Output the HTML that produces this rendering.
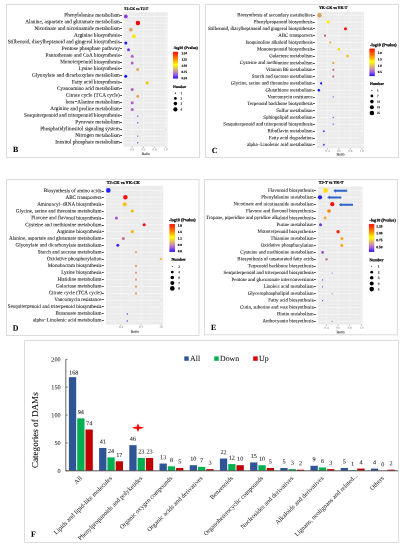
<!DOCTYPE html><html><head><meta charset="utf-8"><style>html,body{margin:0;padding:0;background:#fff;width:405px;height:550px;overflow:hidden}svg{display:block;will-change:transform}text{font-family:"Liberation Serif",serif;text-rendering:geometricPrecision}</style></head><body>
<svg width="405" height="550" viewBox="0 0 405 550">
<rect width="405" height="550" fill="#fff"/>
<rect x="6.5" y="4.5" width="193" height="153" fill="none" stroke="#dcdcdc" stroke-width="1"/>
<rect x="205.5" y="4.5" width="193" height="153" fill="none" stroke="#dcdcdc" stroke-width="1"/>
<rect x="6.5" y="179.5" width="192.5" height="156" fill="none" stroke="#dcdcdc" stroke-width="1"/>
<rect x="204.5" y="179.5" width="193" height="155.3" fill="none" stroke="#dcdcdc" stroke-width="1"/>
<rect x="123.5" y="12.2" width="44.0" height="134.5" fill="#ebebeb"/>
<line x1="126.60" y1="12.2" x2="126.60" y2="146.7" stroke="#fff" stroke-width="0.25" stroke-opacity="0.6"/>
<line x1="137.80" y1="12.2" x2="137.80" y2="146.7" stroke="#fff" stroke-width="0.25" stroke-opacity="0.6"/>
<line x1="149.00" y1="12.2" x2="149.00" y2="146.7" stroke="#fff" stroke-width="0.25" stroke-opacity="0.6"/>
<line x1="160.20" y1="12.2" x2="160.20" y2="146.7" stroke="#fff" stroke-width="0.25" stroke-opacity="0.6"/>
<line x1="132.20" y1="12.2" x2="132.20" y2="146.7" stroke="#fff" stroke-width="0.35"/>
<line x1="143.40" y1="12.2" x2="143.40" y2="146.7" stroke="#fff" stroke-width="0.35"/>
<line x1="154.60" y1="12.2" x2="154.60" y2="146.7" stroke="#fff" stroke-width="0.35"/>
<line x1="165.90" y1="12.2" x2="165.90" y2="146.7" stroke="#fff" stroke-width="0.35"/>
<line x1="123.5" y1="16.40" x2="167.5" y2="16.40" stroke="#fff" stroke-width="0.5"/>
<line x1="123.5" y1="19.72" x2="167.5" y2="19.72" stroke="#fff" stroke-width="0.25" stroke-opacity="0.8"/>
<line x1="123.5" y1="23.05" x2="167.5" y2="23.05" stroke="#fff" stroke-width="0.5"/>
<line x1="123.5" y1="26.37" x2="167.5" y2="26.37" stroke="#fff" stroke-width="0.25" stroke-opacity="0.8"/>
<line x1="123.5" y1="29.70" x2="167.5" y2="29.70" stroke="#fff" stroke-width="0.5"/>
<line x1="123.5" y1="33.02" x2="167.5" y2="33.02" stroke="#fff" stroke-width="0.25" stroke-opacity="0.8"/>
<line x1="123.5" y1="36.35" x2="167.5" y2="36.35" stroke="#fff" stroke-width="0.5"/>
<line x1="123.5" y1="39.68" x2="167.5" y2="39.68" stroke="#fff" stroke-width="0.25" stroke-opacity="0.8"/>
<line x1="123.5" y1="43.00" x2="167.5" y2="43.00" stroke="#fff" stroke-width="0.5"/>
<line x1="123.5" y1="46.33" x2="167.5" y2="46.33" stroke="#fff" stroke-width="0.25" stroke-opacity="0.8"/>
<line x1="123.5" y1="49.65" x2="167.5" y2="49.65" stroke="#fff" stroke-width="0.5"/>
<line x1="123.5" y1="52.98" x2="167.5" y2="52.98" stroke="#fff" stroke-width="0.25" stroke-opacity="0.8"/>
<line x1="123.5" y1="56.30" x2="167.5" y2="56.30" stroke="#fff" stroke-width="0.5"/>
<line x1="123.5" y1="59.63" x2="167.5" y2="59.63" stroke="#fff" stroke-width="0.25" stroke-opacity="0.8"/>
<line x1="123.5" y1="62.95" x2="167.5" y2="62.95" stroke="#fff" stroke-width="0.5"/>
<line x1="123.5" y1="66.28" x2="167.5" y2="66.28" stroke="#fff" stroke-width="0.25" stroke-opacity="0.8"/>
<line x1="123.5" y1="69.60" x2="167.5" y2="69.60" stroke="#fff" stroke-width="0.5"/>
<line x1="123.5" y1="72.92" x2="167.5" y2="72.92" stroke="#fff" stroke-width="0.25" stroke-opacity="0.8"/>
<line x1="123.5" y1="76.25" x2="167.5" y2="76.25" stroke="#fff" stroke-width="0.5"/>
<line x1="123.5" y1="79.58" x2="167.5" y2="79.58" stroke="#fff" stroke-width="0.25" stroke-opacity="0.8"/>
<line x1="123.5" y1="82.90" x2="167.5" y2="82.90" stroke="#fff" stroke-width="0.5"/>
<line x1="123.5" y1="86.23" x2="167.5" y2="86.23" stroke="#fff" stroke-width="0.25" stroke-opacity="0.8"/>
<line x1="123.5" y1="89.55" x2="167.5" y2="89.55" stroke="#fff" stroke-width="0.5"/>
<line x1="123.5" y1="92.88" x2="167.5" y2="92.88" stroke="#fff" stroke-width="0.25" stroke-opacity="0.8"/>
<line x1="123.5" y1="96.20" x2="167.5" y2="96.20" stroke="#fff" stroke-width="0.5"/>
<line x1="123.5" y1="99.53" x2="167.5" y2="99.53" stroke="#fff" stroke-width="0.25" stroke-opacity="0.8"/>
<line x1="123.5" y1="102.85" x2="167.5" y2="102.85" stroke="#fff" stroke-width="0.5"/>
<line x1="123.5" y1="106.17" x2="167.5" y2="106.17" stroke="#fff" stroke-width="0.25" stroke-opacity="0.8"/>
<line x1="123.5" y1="109.50" x2="167.5" y2="109.50" stroke="#fff" stroke-width="0.5"/>
<line x1="123.5" y1="112.83" x2="167.5" y2="112.83" stroke="#fff" stroke-width="0.25" stroke-opacity="0.8"/>
<line x1="123.5" y1="116.15" x2="167.5" y2="116.15" stroke="#fff" stroke-width="0.5"/>
<line x1="123.5" y1="119.48" x2="167.5" y2="119.48" stroke="#fff" stroke-width="0.25" stroke-opacity="0.8"/>
<line x1="123.5" y1="122.80" x2="167.5" y2="122.80" stroke="#fff" stroke-width="0.5"/>
<line x1="123.5" y1="126.13" x2="167.5" y2="126.13" stroke="#fff" stroke-width="0.25" stroke-opacity="0.8"/>
<line x1="123.5" y1="129.45" x2="167.5" y2="129.45" stroke="#fff" stroke-width="0.5"/>
<line x1="123.5" y1="132.78" x2="167.5" y2="132.78" stroke="#fff" stroke-width="0.25" stroke-opacity="0.8"/>
<line x1="123.5" y1="136.10" x2="167.5" y2="136.10" stroke="#fff" stroke-width="0.5"/>
<line x1="123.5" y1="139.42" x2="167.5" y2="139.42" stroke="#fff" stroke-width="0.25" stroke-opacity="0.8"/>
<line x1="123.5" y1="142.75" x2="167.5" y2="142.75" stroke="#fff" stroke-width="0.5"/>
<text x="119.8" y="16.66" font-size="5.25" text-anchor="end" font-weight="normal" fill="#111" stroke="#111" stroke-width="0.06" transform="rotate(0.05 119.8 16.66)" >Phenylalanine metabolism</text>
<line x1="120.1" y1="15.50" x2="122.0" y2="15.50" stroke="#222" stroke-width="0.8"/>
<text x="119.8" y="23.34" font-size="5.25" text-anchor="end" font-weight="normal" fill="#111" stroke="#111" stroke-width="0.06" transform="rotate(0.05 119.8 23.34)" >Alanine, aspartate and glutamate metabolism</text>
<line x1="120.1" y1="22.50" x2="122.0" y2="22.50" stroke="#222" stroke-width="0.8"/>
<text x="119.8" y="30.02" font-size="5.25" text-anchor="end" font-weight="normal" fill="#111" stroke="#111" stroke-width="0.06" transform="rotate(0.05 119.8 30.02)" >Nicotinate and nicotinamide metabolism</text>
<line x1="120.1" y1="28.50" x2="122.0" y2="28.50" stroke="#222" stroke-width="0.8"/>
<text x="119.8" y="36.70" font-size="5.25" text-anchor="end" font-weight="normal" fill="#111" stroke="#111" stroke-width="0.06" transform="rotate(0.05 119.8 36.70)" >Arginine biosynthesis</text>
<line x1="120.1" y1="35.50" x2="122.0" y2="35.50" stroke="#222" stroke-width="0.8"/>
<text x="119.8" y="43.38" font-size="5.25" text-anchor="end" font-weight="normal" fill="#111" stroke="#111" stroke-width="0.06" transform="rotate(0.05 119.8 43.38)" >Stilbenoid, diarylheptanoid and gingerol biosynthesis</text>
<line x1="120.1" y1="42.50" x2="122.0" y2="42.50" stroke="#222" stroke-width="0.8"/>
<text x="119.8" y="50.06" font-size="5.25" text-anchor="end" font-weight="normal" fill="#111" stroke="#111" stroke-width="0.06" transform="rotate(0.05 119.8 50.06)" >Pentose phosphate pathway</text>
<line x1="120.1" y1="48.50" x2="122.0" y2="48.50" stroke="#222" stroke-width="0.8"/>
<text x="119.8" y="56.74" font-size="5.25" text-anchor="end" font-weight="normal" fill="#111" stroke="#111" stroke-width="0.06" transform="rotate(0.05 119.8 56.74)" >Pantothenate and CoA biosynthesis</text>
<line x1="120.1" y1="55.50" x2="122.0" y2="55.50" stroke="#222" stroke-width="0.8"/>
<text x="119.8" y="63.42" font-size="5.25" text-anchor="end" font-weight="normal" fill="#111" stroke="#111" stroke-width="0.06" transform="rotate(0.05 119.8 63.42)" >Monoterpenoid biosynthesis</text>
<line x1="120.1" y1="62.50" x2="122.0" y2="62.50" stroke="#222" stroke-width="0.8"/>
<text x="119.8" y="70.10" font-size="5.25" text-anchor="end" font-weight="normal" fill="#111" stroke="#111" stroke-width="0.06" transform="rotate(0.05 119.8 70.10)" >Lysine biosynthesis</text>
<line x1="120.1" y1="68.50" x2="122.0" y2="68.50" stroke="#222" stroke-width="0.8"/>
<text x="119.8" y="76.78" font-size="5.25" text-anchor="end" font-weight="normal" fill="#111" stroke="#111" stroke-width="0.06" transform="rotate(0.05 119.8 76.78)" >Glyoxylate and dicarboxylate metabolism</text>
<line x1="120.1" y1="75.50" x2="122.0" y2="75.50" stroke="#222" stroke-width="0.8"/>
<text x="119.8" y="83.46" font-size="5.25" text-anchor="end" font-weight="normal" fill="#111" stroke="#111" stroke-width="0.06" transform="rotate(0.05 119.8 83.46)" >Fatty acid biosynthesis</text>
<line x1="120.1" y1="82.50" x2="122.0" y2="82.50" stroke="#222" stroke-width="0.8"/>
<text x="119.8" y="90.14" font-size="5.25" text-anchor="end" font-weight="normal" fill="#111" stroke="#111" stroke-width="0.06" transform="rotate(0.05 119.8 90.14)" >Cyanoamino acid metabolism</text>
<line x1="120.1" y1="88.50" x2="122.0" y2="88.50" stroke="#222" stroke-width="0.8"/>
<text x="119.8" y="96.82" font-size="5.25" text-anchor="end" font-weight="normal" fill="#111" stroke="#111" stroke-width="0.06" transform="rotate(0.05 119.8 96.82)" >Citrate cycle (TCA cycle)</text>
<line x1="120.1" y1="95.50" x2="122.0" y2="95.50" stroke="#222" stroke-width="0.8"/>
<text x="119.8" y="103.50" font-size="5.25" text-anchor="end" font-weight="normal" fill="#111" stroke="#111" stroke-width="0.06" transform="rotate(0.05 119.8 103.50)" >beta−Alanine metabolism</text>
<line x1="120.1" y1="102.50" x2="122.0" y2="102.50" stroke="#222" stroke-width="0.8"/>
<text x="119.8" y="110.18" font-size="5.25" text-anchor="end" font-weight="normal" fill="#111" stroke="#111" stroke-width="0.06" transform="rotate(0.05 119.8 110.18)" >Arginine and proline metabolism</text>
<line x1="120.1" y1="108.50" x2="122.0" y2="108.50" stroke="#222" stroke-width="0.8"/>
<text x="119.8" y="116.86" font-size="5.25" text-anchor="end" font-weight="normal" fill="#111" stroke="#111" stroke-width="0.06" transform="rotate(0.05 119.8 116.86)" >Sesquiterpenoid and triterpenoid biosynthesis</text>
<line x1="120.1" y1="115.50" x2="122.0" y2="115.50" stroke="#222" stroke-width="0.8"/>
<text x="119.8" y="123.54" font-size="5.25" text-anchor="end" font-weight="normal" fill="#111" stroke="#111" stroke-width="0.06" transform="rotate(0.05 119.8 123.54)" >Pyruvate metabolism</text>
<line x1="120.1" y1="122.50" x2="122.0" y2="122.50" stroke="#222" stroke-width="0.8"/>
<text x="119.8" y="130.22" font-size="5.25" text-anchor="end" font-weight="normal" fill="#111" stroke="#111" stroke-width="0.06" transform="rotate(0.05 119.8 130.22)" >Phosphatidylinositol signaling system</text>
<line x1="120.1" y1="129.50" x2="122.0" y2="129.50" stroke="#222" stroke-width="0.8"/>
<text x="119.8" y="136.90" font-size="5.25" text-anchor="end" font-weight="normal" fill="#111" stroke="#111" stroke-width="0.06" transform="rotate(0.05 119.8 136.90)" >Nitrogen metabolism</text>
<line x1="120.1" y1="135.50" x2="122.0" y2="135.50" stroke="#222" stroke-width="0.8"/>
<text x="119.8" y="143.58" font-size="5.25" text-anchor="end" font-weight="normal" fill="#111" stroke="#111" stroke-width="0.06" transform="rotate(0.05 119.8 143.58)" >Inositol phosphate metabolism</text>
<line x1="120.1" y1="142.50" x2="122.0" y2="142.50" stroke="#222" stroke-width="0.8"/>
<circle cx="125.8" cy="16.40" r="1.9" fill="#8a3ee6"/>
<circle cx="137.9" cy="23.05" r="2.2" fill="#ff0000"/>
<circle cx="130.9" cy="29.70" r="1.9" fill="#d8a868"/>
<circle cx="133.9" cy="36.35" r="1.9" fill="#ffe600"/>
<circle cx="125.8" cy="43.00" r="1.5" fill="#1a1aff"/>
<circle cx="128.5" cy="49.65" r="1.5" fill="#7a30f0"/>
<circle cx="132.2" cy="56.30" r="1.5" fill="#b060c0"/>
<circle cx="132.2" cy="62.95" r="1.5" fill="#b060c0"/>
<circle cx="137.7" cy="69.60" r="1.5" fill="#e0b050"/>
<circle cx="125.7" cy="76.25" r="1.5" fill="#1010ff"/>
<circle cx="147.2" cy="82.90" r="1.6" fill="#f5c518"/>
<circle cx="132.2" cy="89.55" r="1.5" fill="#b060c0"/>
<circle cx="137.7" cy="96.20" r="1.5" fill="#e0b050"/>
<circle cx="132.2" cy="102.85" r="1.5" fill="#b060c0"/>
<circle cx="132.2" cy="109.50" r="1.5" fill="#b060c0"/>
<circle cx="137.7" cy="116.15" r="0.7" fill="#6040ff"/>
<circle cx="137.7" cy="122.80" r="0.7" fill="#6040ff"/>
<circle cx="165.9" cy="129.45" r="0.5" fill="#d8b8c8"/>
<circle cx="137.7" cy="136.10" r="0.7" fill="#6040ff"/>
<circle cx="137.7" cy="142.75" r="0.7" fill="#6040ff"/>
<line x1="132.2" y1="146.7" x2="132.2" y2="147.89999999999998" stroke="#333" stroke-width="0.4"/>
<text x="132.2" y="150.40" font-size="3.2" text-anchor="middle" font-weight="normal" fill="#666" transform="rotate(0.05 132.2 150.40)" >0.4</text>
<line x1="143.4" y1="146.7" x2="143.4" y2="147.89999999999998" stroke="#333" stroke-width="0.4"/>
<text x="143.4" y="150.40" font-size="3.2" text-anchor="middle" font-weight="normal" fill="#666" transform="rotate(0.05 143.4 150.40)" >0.6</text>
<line x1="154.6" y1="146.7" x2="154.6" y2="147.89999999999998" stroke="#333" stroke-width="0.4"/>
<text x="154.6" y="150.40" font-size="3.2" text-anchor="middle" font-weight="normal" fill="#666" transform="rotate(0.05 154.6 150.40)" >0.8</text>
<line x1="165.9" y1="146.7" x2="165.9" y2="147.89999999999998" stroke="#333" stroke-width="0.4"/>
<text x="165.9" y="150.40" font-size="3.2" text-anchor="middle" font-weight="normal" fill="#666" transform="rotate(0.05 165.9 150.40)" >1.0</text>
<text x="145.8" y="155.00" font-size="3.8" text-anchor="middle" font-weight="normal" fill="#222" stroke="#222" stroke-width="0.06" transform="rotate(0.05 145.8 155.00)" >Ratio</text>
<text x="124" y="10.03" font-size="3.72" text-anchor="start" font-weight="bold" fill="#000" stroke="#000" stroke-width="0.2" transform="rotate(0.05 124 10.03)" >TJ-CK vs TJ-T</text>
<text x="173.2" y="49.07" font-size="3.84" text-anchor="start" font-weight="bold" fill="#000" stroke="#000" stroke-width="0.2" transform="rotate(0.05 173.2 49.07)" >-log10 (Pvalue)</text>
<defs><linearGradient id="g1" x1="0" y1="0" x2="0" y2="1"><stop offset="0" stop-color="#ff0a00"/><stop offset="0.25" stop-color="#ff8000"/><stop offset="0.48" stop-color="#ffff00"/><stop offset="0.70" stop-color="#d8a090"/><stop offset="0.85" stop-color="#a060e0"/><stop offset="1" stop-color="#2a10ff"/></linearGradient></defs>
<rect x="173" y="51.8" width="5" height="26.799999999999997" fill="url(#g1)"/>
<text x="181.4" y="54.19" font-size="3.2" text-anchor="start" font-weight="bold" fill="#000" stroke="#000" stroke-width="0.15" transform="rotate(0.05 181.4 54.19)" >1.50</text>
<text x="181.4" y="60.49" font-size="3.2" text-anchor="start" font-weight="bold" fill="#000" stroke="#000" stroke-width="0.15" transform="rotate(0.05 181.4 60.49)" >1.25</text>
<text x="181.4" y="66.79" font-size="3.2" text-anchor="start" font-weight="bold" fill="#000" stroke="#000" stroke-width="0.15" transform="rotate(0.05 181.4 66.79)" >1.00</text>
<text x="181.4" y="73.09" font-size="3.2" text-anchor="start" font-weight="bold" fill="#000" stroke="#000" stroke-width="0.15" transform="rotate(0.05 181.4 73.09)" >0.75</text>
<text x="181.4" y="79.29" font-size="3.2" text-anchor="start" font-weight="bold" fill="#000" stroke="#000" stroke-width="0.15" transform="rotate(0.05 181.4 79.29)" >0.50</text>
<text x="173" y="88.02" font-size="3.71" text-anchor="start" font-weight="bold" fill="#000" stroke="#000" stroke-width="0.2" transform="rotate(0.05 173 88.02)" >Number</text>
<circle cx="175.4" cy="93.2" r="0.6" fill="#000"/>
<text x="180.5" y="94.29" font-size="3.2" text-anchor="start" font-weight="bold" fill="#222" stroke="#222" stroke-width="0.08" transform="rotate(0.05 180.5 94.29)" >1</text>
<circle cx="175.4" cy="98.4" r="1.4" fill="#000"/>
<text x="180.5" y="99.49" font-size="3.2" text-anchor="start" font-weight="bold" fill="#222" stroke="#222" stroke-width="0.08" transform="rotate(0.05 180.5 99.49)" >2</text>
<circle cx="175.4" cy="103.6" r="1.8" fill="#000"/>
<text x="180.5" y="104.69" font-size="3.2" text-anchor="start" font-weight="bold" fill="#222" stroke="#222" stroke-width="0.08" transform="rotate(0.05 180.5 104.69)" >3</text>
<circle cx="175.4" cy="109.4" r="2.1" fill="#000"/>
<text x="180.5" y="110.49" font-size="3.2" text-anchor="start" font-weight="bold" fill="#222" stroke="#222" stroke-width="0.08" transform="rotate(0.05 180.5 110.49)" >4</text>
<text x="13" y="152" font-size="7.9" text-anchor="start" font-weight="bold" fill="#000" stroke="#000" stroke-width="0.06" transform="rotate(0.05 13 152)" >B</text>
<rect x="317.2" y="11.75" width="46.80000000000001" height="136.55" fill="#ebebeb"/>
<line x1="321.80" y1="11.75" x2="321.80" y2="148.3" stroke="#fff" stroke-width="0.25" stroke-opacity="0.6"/>
<line x1="333.20" y1="11.75" x2="333.20" y2="148.3" stroke="#fff" stroke-width="0.25" stroke-opacity="0.6"/>
<line x1="344.60" y1="11.75" x2="344.60" y2="148.3" stroke="#fff" stroke-width="0.25" stroke-opacity="0.6"/>
<line x1="356.00" y1="11.75" x2="356.00" y2="148.3" stroke="#fff" stroke-width="0.25" stroke-opacity="0.6"/>
<line x1="327.50" y1="11.75" x2="327.50" y2="148.3" stroke="#fff" stroke-width="0.35"/>
<line x1="338.90" y1="11.75" x2="338.90" y2="148.3" stroke="#fff" stroke-width="0.35"/>
<line x1="350.30" y1="11.75" x2="350.30" y2="148.3" stroke="#fff" stroke-width="0.35"/>
<line x1="361.90" y1="11.75" x2="361.90" y2="148.3" stroke="#fff" stroke-width="0.35"/>
<line x1="317.2" y1="15.20" x2="364" y2="15.20" stroke="#fff" stroke-width="0.5"/>
<line x1="317.2" y1="18.61" x2="364" y2="18.61" stroke="#fff" stroke-width="0.25" stroke-opacity="0.8"/>
<line x1="317.2" y1="22.02" x2="364" y2="22.02" stroke="#fff" stroke-width="0.5"/>
<line x1="317.2" y1="25.43" x2="364" y2="25.43" stroke="#fff" stroke-width="0.25" stroke-opacity="0.8"/>
<line x1="317.2" y1="28.84" x2="364" y2="28.84" stroke="#fff" stroke-width="0.5"/>
<line x1="317.2" y1="32.25" x2="364" y2="32.25" stroke="#fff" stroke-width="0.25" stroke-opacity="0.8"/>
<line x1="317.2" y1="35.66" x2="364" y2="35.66" stroke="#fff" stroke-width="0.5"/>
<line x1="317.2" y1="39.07" x2="364" y2="39.07" stroke="#fff" stroke-width="0.25" stroke-opacity="0.8"/>
<line x1="317.2" y1="42.48" x2="364" y2="42.48" stroke="#fff" stroke-width="0.5"/>
<line x1="317.2" y1="45.89" x2="364" y2="45.89" stroke="#fff" stroke-width="0.25" stroke-opacity="0.8"/>
<line x1="317.2" y1="49.30" x2="364" y2="49.30" stroke="#fff" stroke-width="0.5"/>
<line x1="317.2" y1="52.71" x2="364" y2="52.71" stroke="#fff" stroke-width="0.25" stroke-opacity="0.8"/>
<line x1="317.2" y1="56.12" x2="364" y2="56.12" stroke="#fff" stroke-width="0.5"/>
<line x1="317.2" y1="59.53" x2="364" y2="59.53" stroke="#fff" stroke-width="0.25" stroke-opacity="0.8"/>
<line x1="317.2" y1="62.94" x2="364" y2="62.94" stroke="#fff" stroke-width="0.5"/>
<line x1="317.2" y1="66.35" x2="364" y2="66.35" stroke="#fff" stroke-width="0.25" stroke-opacity="0.8"/>
<line x1="317.2" y1="69.76" x2="364" y2="69.76" stroke="#fff" stroke-width="0.5"/>
<line x1="317.2" y1="73.17" x2="364" y2="73.17" stroke="#fff" stroke-width="0.25" stroke-opacity="0.8"/>
<line x1="317.2" y1="76.58" x2="364" y2="76.58" stroke="#fff" stroke-width="0.5"/>
<line x1="317.2" y1="79.99" x2="364" y2="79.99" stroke="#fff" stroke-width="0.25" stroke-opacity="0.8"/>
<line x1="317.2" y1="83.40" x2="364" y2="83.40" stroke="#fff" stroke-width="0.5"/>
<line x1="317.2" y1="86.81" x2="364" y2="86.81" stroke="#fff" stroke-width="0.25" stroke-opacity="0.8"/>
<line x1="317.2" y1="90.22" x2="364" y2="90.22" stroke="#fff" stroke-width="0.5"/>
<line x1="317.2" y1="93.63" x2="364" y2="93.63" stroke="#fff" stroke-width="0.25" stroke-opacity="0.8"/>
<line x1="317.2" y1="97.04" x2="364" y2="97.04" stroke="#fff" stroke-width="0.5"/>
<line x1="317.2" y1="100.45" x2="364" y2="100.45" stroke="#fff" stroke-width="0.25" stroke-opacity="0.8"/>
<line x1="317.2" y1="103.86" x2="364" y2="103.86" stroke="#fff" stroke-width="0.5"/>
<line x1="317.2" y1="107.27" x2="364" y2="107.27" stroke="#fff" stroke-width="0.25" stroke-opacity="0.8"/>
<line x1="317.2" y1="110.68" x2="364" y2="110.68" stroke="#fff" stroke-width="0.5"/>
<line x1="317.2" y1="114.09" x2="364" y2="114.09" stroke="#fff" stroke-width="0.25" stroke-opacity="0.8"/>
<line x1="317.2" y1="117.50" x2="364" y2="117.50" stroke="#fff" stroke-width="0.5"/>
<line x1="317.2" y1="120.91" x2="364" y2="120.91" stroke="#fff" stroke-width="0.25" stroke-opacity="0.8"/>
<line x1="317.2" y1="124.32" x2="364" y2="124.32" stroke="#fff" stroke-width="0.5"/>
<line x1="317.2" y1="127.73" x2="364" y2="127.73" stroke="#fff" stroke-width="0.25" stroke-opacity="0.8"/>
<line x1="317.2" y1="131.14" x2="364" y2="131.14" stroke="#fff" stroke-width="0.5"/>
<line x1="317.2" y1="134.55" x2="364" y2="134.55" stroke="#fff" stroke-width="0.25" stroke-opacity="0.8"/>
<line x1="317.2" y1="137.96" x2="364" y2="137.96" stroke="#fff" stroke-width="0.5"/>
<line x1="317.2" y1="141.37" x2="364" y2="141.37" stroke="#fff" stroke-width="0.25" stroke-opacity="0.8"/>
<line x1="317.2" y1="144.78" x2="364" y2="144.78" stroke="#fff" stroke-width="0.5"/>
<text x="312.7" y="16.43" font-size="4.93" text-anchor="end" font-weight="normal" fill="#111" stroke="#111" stroke-width="0.06" transform="rotate(0.05 312.7 16.43)" >Biosynthesis of secondary metabolites</text>
<line x1="313.0" y1="15.50" x2="314.9" y2="15.50" stroke="#222" stroke-width="0.8"/>
<text x="312.7" y="23.25" font-size="4.93" text-anchor="end" font-weight="normal" fill="#111" stroke="#111" stroke-width="0.06" transform="rotate(0.05 312.7 23.25)" >Phenylpropanoid biosynthesis</text>
<line x1="313.0" y1="22.50" x2="314.9" y2="22.50" stroke="#222" stroke-width="0.8"/>
<text x="312.7" y="30.07" font-size="4.93" text-anchor="end" font-weight="normal" fill="#111" stroke="#111" stroke-width="0.06" transform="rotate(0.05 312.7 30.07)" >Stilbenoid, diarylheptanoid and gingerol biosynthesis</text>
<line x1="313.0" y1="28.50" x2="314.9" y2="28.50" stroke="#222" stroke-width="0.8"/>
<text x="312.7" y="36.89" font-size="4.93" text-anchor="end" font-weight="normal" fill="#111" stroke="#111" stroke-width="0.06" transform="rotate(0.05 312.7 36.89)" >ABC transporters</text>
<line x1="313.0" y1="35.50" x2="314.9" y2="35.50" stroke="#222" stroke-width="0.8"/>
<text x="312.7" y="43.71" font-size="4.93" text-anchor="end" font-weight="normal" fill="#111" stroke="#111" stroke-width="0.06" transform="rotate(0.05 312.7 43.71)" >Isoquinoline alkaloid biosynthesis</text>
<line x1="313.0" y1="42.50" x2="314.9" y2="42.50" stroke="#222" stroke-width="0.8"/>
<text x="312.7" y="50.53" font-size="4.93" text-anchor="end" font-weight="normal" fill="#111" stroke="#111" stroke-width="0.06" transform="rotate(0.05 312.7 50.53)" >Monoterpenoid biosynthesis</text>
<line x1="313.0" y1="49.50" x2="314.9" y2="49.50" stroke="#222" stroke-width="0.8"/>
<text x="312.7" y="57.35" font-size="4.93" text-anchor="end" font-weight="normal" fill="#111" stroke="#111" stroke-width="0.06" transform="rotate(0.05 312.7 57.35)" >Galactose metabolism</text>
<line x1="313.0" y1="56.50" x2="314.9" y2="56.50" stroke="#222" stroke-width="0.8"/>
<text x="312.7" y="64.17" font-size="4.93" text-anchor="end" font-weight="normal" fill="#111" stroke="#111" stroke-width="0.06" transform="rotate(0.05 312.7 64.17)" >Cysteine and methionine metabolism</text>
<line x1="313.0" y1="63.50" x2="314.9" y2="63.50" stroke="#222" stroke-width="0.8"/>
<text x="312.7" y="70.99" font-size="4.93" text-anchor="end" font-weight="normal" fill="#111" stroke="#111" stroke-width="0.06" transform="rotate(0.05 312.7 70.99)" >Vitamin B6 metabolism</text>
<line x1="313.0" y1="69.50" x2="314.9" y2="69.50" stroke="#222" stroke-width="0.8"/>
<text x="312.7" y="77.81" font-size="4.93" text-anchor="end" font-weight="normal" fill="#111" stroke="#111" stroke-width="0.06" transform="rotate(0.05 312.7 77.81)" >Starch and sucrose metabolism</text>
<line x1="313.0" y1="76.50" x2="314.9" y2="76.50" stroke="#222" stroke-width="0.8"/>
<text x="312.7" y="84.63" font-size="4.93" text-anchor="end" font-weight="normal" fill="#111" stroke="#111" stroke-width="0.06" transform="rotate(0.05 312.7 84.63)" >Glycine, serine and threonine metabolism</text>
<line x1="313.0" y1="83.50" x2="314.9" y2="83.50" stroke="#222" stroke-width="0.8"/>
<text x="312.7" y="91.45" font-size="4.93" text-anchor="end" font-weight="normal" fill="#111" stroke="#111" stroke-width="0.06" transform="rotate(0.05 312.7 91.45)" >Glutathione metabolism</text>
<line x1="313.0" y1="90.50" x2="314.9" y2="90.50" stroke="#222" stroke-width="0.8"/>
<text x="312.7" y="98.27" font-size="4.93" text-anchor="end" font-weight="normal" fill="#111" stroke="#111" stroke-width="0.06" transform="rotate(0.05 312.7 98.27)" >Vancomycin resistance</text>
<line x1="313.0" y1="97.50" x2="314.9" y2="97.50" stroke="#222" stroke-width="0.8"/>
<text x="312.7" y="105.09" font-size="4.93" text-anchor="end" font-weight="normal" fill="#111" stroke="#111" stroke-width="0.06" transform="rotate(0.05 312.7 105.09)" >Terpenoid backbone biosynthesis</text>
<line x1="313.0" y1="103.50" x2="314.9" y2="103.50" stroke="#222" stroke-width="0.8"/>
<text x="312.7" y="111.91" font-size="4.93" text-anchor="end" font-weight="normal" fill="#111" stroke="#111" stroke-width="0.06" transform="rotate(0.05 312.7 111.91)" >Sulfur metabolism</text>
<line x1="313.0" y1="110.50" x2="314.9" y2="110.50" stroke="#222" stroke-width="0.8"/>
<text x="312.7" y="118.73" font-size="4.93" text-anchor="end" font-weight="normal" fill="#111" stroke="#111" stroke-width="0.06" transform="rotate(0.05 312.7 118.73)" >Sphingolipid metabolism</text>
<line x1="313.0" y1="117.50" x2="314.9" y2="117.50" stroke="#222" stroke-width="0.8"/>
<text x="312.7" y="125.55" font-size="4.93" text-anchor="end" font-weight="normal" fill="#111" stroke="#111" stroke-width="0.06" transform="rotate(0.05 312.7 125.55)" >Sesquiterpenoid and triterpenoid biosynthesis</text>
<line x1="313.0" y1="124.50" x2="314.9" y2="124.50" stroke="#222" stroke-width="0.8"/>
<text x="312.7" y="132.37" font-size="4.93" text-anchor="end" font-weight="normal" fill="#111" stroke="#111" stroke-width="0.06" transform="rotate(0.05 312.7 132.37)" >Riboflavin metabolism</text>
<line x1="313.0" y1="131.50" x2="314.9" y2="131.50" stroke="#222" stroke-width="0.8"/>
<text x="312.7" y="139.19" font-size="4.93" text-anchor="end" font-weight="normal" fill="#111" stroke="#111" stroke-width="0.06" transform="rotate(0.05 312.7 139.19)" >Fatty acid degradation</text>
<line x1="313.0" y1="138.50" x2="314.9" y2="138.50" stroke="#222" stroke-width="0.8"/>
<text x="312.7" y="146.01" font-size="4.93" text-anchor="end" font-weight="normal" fill="#111" stroke="#111" stroke-width="0.06" transform="rotate(0.05 312.7 146.01)" >alpha−Linolenic acid metabolism</text>
<line x1="313.0" y1="144.50" x2="314.9" y2="144.50" stroke="#222" stroke-width="0.8"/>
<circle cx="319.5" cy="15.20" r="2.2" fill="#d9a060"/>
<circle cx="328.2" cy="22.02" r="1.6" fill="#ffee00"/>
<circle cx="345.5" cy="28.84" r="1.5" fill="#ff0000"/>
<circle cx="325" cy="35.66" r="1.1" fill="#c06080"/>
<circle cx="330.2" cy="42.48" r="1.1" fill="#f0b030"/>
<circle cx="338.9" cy="49.30" r="1.2" fill="#f8d800"/>
<circle cx="347.5" cy="56.12" r="1.3" fill="#f5b820"/>
<circle cx="333.3" cy="62.94" r="1.1" fill="#e8a040"/>
<circle cx="333.3" cy="69.76" r="1.0" fill="#c06070"/>
<circle cx="333.3" cy="76.58" r="1.0" fill="#c06070"/>
<circle cx="321.1" cy="83.40" r="1.1" fill="#1515ff"/>
<circle cx="318.9" cy="90.22" r="1.2" fill="#1010ff"/>
<circle cx="333.3" cy="97.04" r="0.8" fill="#a070e0"/>
<circle cx="361.9" cy="103.86" r="0.5" fill="#e0c0c0"/>
<circle cx="361.9" cy="110.68" r="0.5" fill="#e0c0c0"/>
<circle cx="333.3" cy="117.50" r="0.8" fill="#9060f0"/>
<circle cx="333.3" cy="124.32" r="0.8" fill="#9060f0"/>
<circle cx="323.8" cy="131.14" r="1.0" fill="#6040ff"/>
<circle cx="361.9" cy="137.96" r="0.5" fill="#e0c0c0"/>
<circle cx="323.8" cy="144.78" r="1.0" fill="#6040ff"/>
<line x1="327.5" y1="148.3" x2="327.5" y2="149.5" stroke="#333" stroke-width="0.4"/>
<text x="327.5" y="152.10" font-size="3.2" text-anchor="middle" font-weight="normal" fill="#666" transform="rotate(0.05 327.5 152.10)" >0.4</text>
<line x1="338.9" y1="148.3" x2="338.9" y2="149.5" stroke="#333" stroke-width="0.4"/>
<text x="338.9" y="152.10" font-size="3.2" text-anchor="middle" font-weight="normal" fill="#666" transform="rotate(0.05 338.9 152.10)" >0.6</text>
<line x1="350.3" y1="148.3" x2="350.3" y2="149.5" stroke="#333" stroke-width="0.4"/>
<text x="350.3" y="152.10" font-size="3.2" text-anchor="middle" font-weight="normal" fill="#666" transform="rotate(0.05 350.3 152.10)" >0.8</text>
<line x1="361.9" y1="148.3" x2="361.9" y2="149.5" stroke="#333" stroke-width="0.4"/>
<text x="361.9" y="152.10" font-size="3.2" text-anchor="middle" font-weight="normal" fill="#666" transform="rotate(0.05 361.9 152.10)" >1.0</text>
<text x="340.6" y="155.50" font-size="3.8" text-anchor="middle" font-weight="normal" fill="#222" stroke="#222" stroke-width="0.06" transform="rotate(0.05 340.6 155.50)" >Ratio</text>
<text x="319" y="8.91" font-size="3.97" text-anchor="start" font-weight="bold" fill="#000" stroke="#000" stroke-width="0.2" transform="rotate(0.05 319 8.91)" >YK-CK vs YK-T</text>
<text x="370.1" y="46.27" font-size="4.16" text-anchor="start" font-weight="bold" fill="#000" stroke="#000" stroke-width="0.2" transform="rotate(0.05 370.1 46.27)" >-log10 (Pvalue)</text>
<defs><linearGradient id="g2" x1="0" y1="0" x2="0" y2="1"><stop offset="0" stop-color="#ff0a00"/><stop offset="0.25" stop-color="#ff8000"/><stop offset="0.48" stop-color="#ffff00"/><stop offset="0.70" stop-color="#d8a090"/><stop offset="0.85" stop-color="#a060e0"/><stop offset="1" stop-color="#2a10ff"/></linearGradient></defs>
<rect x="369.4" y="48.6" width="5.400000000000034" height="27.499999999999993" fill="url(#g2)"/>
<text x="377.8" y="53.89" font-size="3.2" text-anchor="start" font-weight="bold" fill="#000" stroke="#000" stroke-width="0.15" transform="rotate(0.05 377.8 53.89)" >2.0</text>
<text x="377.8" y="60.29" font-size="3.2" text-anchor="start" font-weight="bold" fill="#000" stroke="#000" stroke-width="0.15" transform="rotate(0.05 377.8 60.29)" >1.5</text>
<text x="377.8" y="66.69" font-size="3.2" text-anchor="start" font-weight="bold" fill="#000" stroke="#000" stroke-width="0.15" transform="rotate(0.05 377.8 66.69)" >1.0</text>
<text x="377.8" y="73.09" font-size="3.2" text-anchor="start" font-weight="bold" fill="#000" stroke="#000" stroke-width="0.15" transform="rotate(0.05 377.8 73.09)" >0.5</text>
<text x="370.1" y="85.08" font-size="3.88" text-anchor="start" font-weight="bold" fill="#000" stroke="#000" stroke-width="0.2" transform="rotate(0.05 370.1 85.08)" >Number</text>
<circle cx="371.9" cy="90.4" r="0.5" fill="#000"/>
<text x="377" y="91.49" font-size="3.2" text-anchor="start" font-weight="bold" fill="#222" stroke="#222" stroke-width="0.08" transform="rotate(0.05 377 91.49)" >1</text>
<circle cx="371.9" cy="95.9" r="1.4" fill="#000"/>
<text x="377" y="96.99" font-size="3.2" text-anchor="start" font-weight="bold" fill="#222" stroke="#222" stroke-width="0.08" transform="rotate(0.05 377 96.99)" >7</text>
<circle cx="371.9" cy="101.6" r="1.8" fill="#000"/>
<text x="377" y="102.69" font-size="3.2" text-anchor="start" font-weight="bold" fill="#222" stroke="#222" stroke-width="0.08" transform="rotate(0.05 377 102.69)" >13</text>
<circle cx="371.9" cy="107.2" r="2.0" fill="#000"/>
<text x="377" y="108.29" font-size="3.2" text-anchor="start" font-weight="bold" fill="#222" stroke="#222" stroke-width="0.08" transform="rotate(0.05 377 108.29)" >19</text>
<circle cx="371.9" cy="113" r="2.3" fill="#000"/>
<text x="377" y="114.09" font-size="3.2" text-anchor="start" font-weight="bold" fill="#222" stroke="#222" stroke-width="0.08" transform="rotate(0.05 377 114.09)" >25</text>
<text x="211.7" y="152.9" font-size="7.9" text-anchor="start" font-weight="bold" fill="#000" stroke="#000" stroke-width="0.06" transform="rotate(0.05 211.7 152.9)" >C</text>
<rect x="106" y="185.8" width="57.30000000000001" height="138.8" fill="#ebebeb"/>
<line x1="110.95" y1="185.8" x2="110.95" y2="324.6" stroke="#fff" stroke-width="0.25" stroke-opacity="0.6"/>
<line x1="131.05" y1="185.8" x2="131.05" y2="324.6" stroke="#fff" stroke-width="0.25" stroke-opacity="0.6"/>
<line x1="151.15" y1="185.8" x2="151.15" y2="324.6" stroke="#fff" stroke-width="0.25" stroke-opacity="0.6"/>
<line x1="121.00" y1="185.8" x2="121.00" y2="324.6" stroke="#fff" stroke-width="0.35"/>
<line x1="141.10" y1="185.8" x2="141.10" y2="324.6" stroke="#fff" stroke-width="0.35"/>
<line x1="161.20" y1="185.8" x2="161.20" y2="324.6" stroke="#fff" stroke-width="0.35"/>
<line x1="106" y1="190.40" x2="163.3" y2="190.40" stroke="#fff" stroke-width="0.5"/>
<line x1="106" y1="193.84" x2="163.3" y2="193.84" stroke="#fff" stroke-width="0.25" stroke-opacity="0.8"/>
<line x1="106" y1="197.27" x2="163.3" y2="197.27" stroke="#fff" stroke-width="0.5"/>
<line x1="106" y1="200.71" x2="163.3" y2="200.71" stroke="#fff" stroke-width="0.25" stroke-opacity="0.8"/>
<line x1="106" y1="204.14" x2="163.3" y2="204.14" stroke="#fff" stroke-width="0.5"/>
<line x1="106" y1="207.58" x2="163.3" y2="207.58" stroke="#fff" stroke-width="0.25" stroke-opacity="0.8"/>
<line x1="106" y1="211.01" x2="163.3" y2="211.01" stroke="#fff" stroke-width="0.5"/>
<line x1="106" y1="214.44" x2="163.3" y2="214.44" stroke="#fff" stroke-width="0.25" stroke-opacity="0.8"/>
<line x1="106" y1="217.88" x2="163.3" y2="217.88" stroke="#fff" stroke-width="0.5"/>
<line x1="106" y1="221.31" x2="163.3" y2="221.31" stroke="#fff" stroke-width="0.25" stroke-opacity="0.8"/>
<line x1="106" y1="224.75" x2="163.3" y2="224.75" stroke="#fff" stroke-width="0.5"/>
<line x1="106" y1="228.19" x2="163.3" y2="228.19" stroke="#fff" stroke-width="0.25" stroke-opacity="0.8"/>
<line x1="106" y1="231.62" x2="163.3" y2="231.62" stroke="#fff" stroke-width="0.5"/>
<line x1="106" y1="235.06" x2="163.3" y2="235.06" stroke="#fff" stroke-width="0.25" stroke-opacity="0.8"/>
<line x1="106" y1="238.49" x2="163.3" y2="238.49" stroke="#fff" stroke-width="0.5"/>
<line x1="106" y1="241.93" x2="163.3" y2="241.93" stroke="#fff" stroke-width="0.25" stroke-opacity="0.8"/>
<line x1="106" y1="245.36" x2="163.3" y2="245.36" stroke="#fff" stroke-width="0.5"/>
<line x1="106" y1="248.80" x2="163.3" y2="248.80" stroke="#fff" stroke-width="0.25" stroke-opacity="0.8"/>
<line x1="106" y1="252.23" x2="163.3" y2="252.23" stroke="#fff" stroke-width="0.5"/>
<line x1="106" y1="255.67" x2="163.3" y2="255.67" stroke="#fff" stroke-width="0.25" stroke-opacity="0.8"/>
<line x1="106" y1="259.10" x2="163.3" y2="259.10" stroke="#fff" stroke-width="0.5"/>
<line x1="106" y1="262.54" x2="163.3" y2="262.54" stroke="#fff" stroke-width="0.25" stroke-opacity="0.8"/>
<line x1="106" y1="265.97" x2="163.3" y2="265.97" stroke="#fff" stroke-width="0.5"/>
<line x1="106" y1="269.41" x2="163.3" y2="269.41" stroke="#fff" stroke-width="0.25" stroke-opacity="0.8"/>
<line x1="106" y1="272.84" x2="163.3" y2="272.84" stroke="#fff" stroke-width="0.5"/>
<line x1="106" y1="276.28" x2="163.3" y2="276.28" stroke="#fff" stroke-width="0.25" stroke-opacity="0.8"/>
<line x1="106" y1="279.71" x2="163.3" y2="279.71" stroke="#fff" stroke-width="0.5"/>
<line x1="106" y1="283.15" x2="163.3" y2="283.15" stroke="#fff" stroke-width="0.25" stroke-opacity="0.8"/>
<line x1="106" y1="286.58" x2="163.3" y2="286.58" stroke="#fff" stroke-width="0.5"/>
<line x1="106" y1="290.02" x2="163.3" y2="290.02" stroke="#fff" stroke-width="0.25" stroke-opacity="0.8"/>
<line x1="106" y1="293.45" x2="163.3" y2="293.45" stroke="#fff" stroke-width="0.5"/>
<line x1="106" y1="296.88" x2="163.3" y2="296.88" stroke="#fff" stroke-width="0.25" stroke-opacity="0.8"/>
<line x1="106" y1="300.32" x2="163.3" y2="300.32" stroke="#fff" stroke-width="0.5"/>
<line x1="106" y1="303.75" x2="163.3" y2="303.75" stroke="#fff" stroke-width="0.25" stroke-opacity="0.8"/>
<line x1="106" y1="307.19" x2="163.3" y2="307.19" stroke="#fff" stroke-width="0.5"/>
<line x1="106" y1="310.62" x2="163.3" y2="310.62" stroke="#fff" stroke-width="0.25" stroke-opacity="0.8"/>
<line x1="106" y1="314.06" x2="163.3" y2="314.06" stroke="#fff" stroke-width="0.5"/>
<line x1="106" y1="317.50" x2="163.3" y2="317.50" stroke="#fff" stroke-width="0.25" stroke-opacity="0.8"/>
<line x1="106" y1="320.93" x2="163.3" y2="320.93" stroke="#fff" stroke-width="0.5"/>
<text x="101.6" y="192.18" font-size="5.15" text-anchor="end" font-weight="normal" fill="#111" stroke="#111" stroke-width="0.06" transform="rotate(0.05 101.6 192.18)" >Biosynthesis of amino acids</text>
<line x1="101.89999999999999" y1="191.50" x2="103.8" y2="191.50" stroke="#222" stroke-width="0.8"/>
<text x="101.6" y="198.99" font-size="5.15" text-anchor="end" font-weight="normal" fill="#111" stroke="#111" stroke-width="0.06" transform="rotate(0.05 101.6 198.99)" >ABC transporters</text>
<line x1="101.89999999999999" y1="197.50" x2="103.8" y2="197.50" stroke="#222" stroke-width="0.8"/>
<text x="101.6" y="205.80" font-size="5.15" text-anchor="end" font-weight="normal" fill="#111" stroke="#111" stroke-width="0.06" transform="rotate(0.05 101.6 205.80)" >Aminoacyl−tRNA biosynthesis</text>
<line x1="101.89999999999999" y1="204.50" x2="103.8" y2="204.50" stroke="#222" stroke-width="0.8"/>
<text x="101.6" y="212.61" font-size="5.15" text-anchor="end" font-weight="normal" fill="#111" stroke="#111" stroke-width="0.06" transform="rotate(0.05 101.6 212.61)" >Glycine, serine and threonine metabolism</text>
<line x1="101.89999999999999" y1="211.50" x2="103.8" y2="211.50" stroke="#222" stroke-width="0.8"/>
<text x="101.6" y="219.42" font-size="5.15" text-anchor="end" font-weight="normal" fill="#111" stroke="#111" stroke-width="0.06" transform="rotate(0.05 101.6 219.42)" >Flavone and flavonol biosynthesis</text>
<line x1="101.89999999999999" y1="218.50" x2="103.8" y2="218.50" stroke="#222" stroke-width="0.8"/>
<text x="101.6" y="226.23" font-size="5.15" text-anchor="end" font-weight="normal" fill="#111" stroke="#111" stroke-width="0.06" transform="rotate(0.05 101.6 226.23)" >Cysteine and methionine metabolism</text>
<line x1="101.89999999999999" y1="225.50" x2="103.8" y2="225.50" stroke="#222" stroke-width="0.8"/>
<text x="101.6" y="233.04" font-size="5.15" text-anchor="end" font-weight="normal" fill="#111" stroke="#111" stroke-width="0.06" transform="rotate(0.05 101.6 233.04)" >Arginine biosynthesis</text>
<line x1="101.89999999999999" y1="231.50" x2="103.8" y2="231.50" stroke="#222" stroke-width="0.8"/>
<text x="101.6" y="239.85" font-size="5.15" text-anchor="end" font-weight="normal" fill="#111" stroke="#111" stroke-width="0.06" transform="rotate(0.05 101.6 239.85)" >Alanine, aspartate and glutamate metabolism</text>
<line x1="101.89999999999999" y1="238.50" x2="103.8" y2="238.50" stroke="#222" stroke-width="0.8"/>
<text x="101.6" y="246.66" font-size="5.15" text-anchor="end" font-weight="normal" fill="#111" stroke="#111" stroke-width="0.06" transform="rotate(0.05 101.6 246.66)" >Glyoxylate and dicarboxylate metabolism</text>
<line x1="101.89999999999999" y1="245.50" x2="103.8" y2="245.50" stroke="#222" stroke-width="0.8"/>
<text x="101.6" y="253.47" font-size="5.15" text-anchor="end" font-weight="normal" fill="#111" stroke="#111" stroke-width="0.06" transform="rotate(0.05 101.6 253.47)" >Starch and sucrose metabolism</text>
<line x1="101.89999999999999" y1="252.50" x2="103.8" y2="252.50" stroke="#222" stroke-width="0.8"/>
<text x="101.6" y="260.28" font-size="5.15" text-anchor="end" font-weight="normal" fill="#111" stroke="#111" stroke-width="0.06" transform="rotate(0.05 101.6 260.28)" >Oxidative phosphorylation</text>
<line x1="101.89999999999999" y1="259.50" x2="103.8" y2="259.50" stroke="#222" stroke-width="0.8"/>
<text x="101.6" y="267.09" font-size="5.15" text-anchor="end" font-weight="normal" fill="#111" stroke="#111" stroke-width="0.06" transform="rotate(0.05 101.6 267.09)" >Monobactam biosynthesis</text>
<line x1="101.89999999999999" y1="265.50" x2="103.8" y2="265.50" stroke="#222" stroke-width="0.8"/>
<text x="101.6" y="273.90" font-size="5.15" text-anchor="end" font-weight="normal" fill="#111" stroke="#111" stroke-width="0.06" transform="rotate(0.05 101.6 273.90)" >Lysine biosynthesis</text>
<line x1="101.89999999999999" y1="272.50" x2="103.8" y2="272.50" stroke="#222" stroke-width="0.8"/>
<text x="101.6" y="280.71" font-size="5.15" text-anchor="end" font-weight="normal" fill="#111" stroke="#111" stroke-width="0.06" transform="rotate(0.05 101.6 280.71)" >Histidine metabolism</text>
<line x1="101.89999999999999" y1="279.50" x2="103.8" y2="279.50" stroke="#222" stroke-width="0.8"/>
<text x="101.6" y="287.52" font-size="5.15" text-anchor="end" font-weight="normal" fill="#111" stroke="#111" stroke-width="0.06" transform="rotate(0.05 101.6 287.52)" >Galactose metabolism</text>
<line x1="101.89999999999999" y1="286.50" x2="103.8" y2="286.50" stroke="#222" stroke-width="0.8"/>
<text x="101.6" y="294.33" font-size="5.15" text-anchor="end" font-weight="normal" fill="#111" stroke="#111" stroke-width="0.06" transform="rotate(0.05 101.6 294.33)" >Citrate cycle (TCA cycle)</text>
<line x1="101.89999999999999" y1="293.50" x2="103.8" y2="293.50" stroke="#222" stroke-width="0.8"/>
<text x="101.6" y="301.14" font-size="5.15" text-anchor="end" font-weight="normal" fill="#111" stroke="#111" stroke-width="0.06" transform="rotate(0.05 101.6 301.14)" >Vancomycin resistance</text>
<line x1="101.89999999999999" y1="299.50" x2="103.8" y2="299.50" stroke="#222" stroke-width="0.8"/>
<text x="101.6" y="307.95" font-size="5.15" text-anchor="end" font-weight="normal" fill="#111" stroke="#111" stroke-width="0.06" transform="rotate(0.05 101.6 307.95)" >Sesquiterpenoid and triterpenoid biosynthesis</text>
<line x1="101.89999999999999" y1="306.50" x2="103.8" y2="306.50" stroke="#222" stroke-width="0.8"/>
<text x="101.6" y="314.76" font-size="5.15" text-anchor="end" font-weight="normal" fill="#111" stroke="#111" stroke-width="0.06" transform="rotate(0.05 101.6 314.76)" >Butanoate metabolism</text>
<line x1="101.89999999999999" y1="313.50" x2="103.8" y2="313.50" stroke="#222" stroke-width="0.8"/>
<text x="101.6" y="321.57" font-size="5.15" text-anchor="end" font-weight="normal" fill="#111" stroke="#111" stroke-width="0.06" transform="rotate(0.05 101.6 321.57)" >alpha−Linolenic acid metabolism</text>
<line x1="101.89999999999999" y1="320.50" x2="103.8" y2="320.50" stroke="#222" stroke-width="0.8"/>
<circle cx="108.3" cy="190.40" r="2.3" fill="#2020ff"/>
<circle cx="125.4" cy="197.27" r="2.2" fill="#ff1010"/>
<circle cx="124.7" cy="204.14" r="2.0" fill="#f8c010"/>
<circle cx="132.3" cy="211.01" r="1.6" fill="#f5b800"/>
<circle cx="116.4" cy="217.88" r="1.5" fill="#a050d0"/>
<circle cx="144.2" cy="224.75" r="1.6" fill="#ff1010"/>
<circle cx="132.3" cy="231.62" r="1.6" fill="#f5b800"/>
<circle cx="123.3" cy="238.49" r="1.5" fill="#c07090"/>
<circle cx="117.8" cy="245.36" r="1.5" fill="#5020ff"/>
<circle cx="136" cy="252.23" r="1.1" fill="#e0a080"/>
<circle cx="160.8" cy="259.10" r="1.1" fill="#f8b020"/>
<circle cx="136" cy="265.97" r="1.1" fill="#e0a080"/>
<circle cx="136" cy="272.84" r="1.1" fill="#e0a080"/>
<circle cx="136" cy="279.71" r="1.1" fill="#e0a080"/>
<circle cx="136" cy="286.58" r="1.1" fill="#e0a080"/>
<circle cx="136" cy="293.45" r="1.1" fill="#e0a080"/>
<circle cx="160.8" cy="300.32" r="0.5" fill="#e8c0a0"/>
<circle cx="160.8" cy="307.19" r="0.5" fill="#e8c0a0"/>
<circle cx="127.3" cy="314.06" r="0.7" fill="#4040ff"/>
<circle cx="127.3" cy="320.93" r="0.7" fill="#4040ff"/>
<line x1="121" y1="324.6" x2="121" y2="325.8" stroke="#333" stroke-width="0.4"/>
<text x="121" y="328.10" font-size="3.2" text-anchor="middle" font-weight="normal" fill="#666" transform="rotate(0.05 121 328.10)" >0.4</text>
<line x1="141.1" y1="324.6" x2="141.1" y2="325.8" stroke="#333" stroke-width="0.4"/>
<text x="141.1" y="328.10" font-size="3.2" text-anchor="middle" font-weight="normal" fill="#666" transform="rotate(0.05 141.1 328.10)" >0.7</text>
<line x1="161.2" y1="324.6" x2="161.2" y2="325.8" stroke="#333" stroke-width="0.4"/>
<text x="161.2" y="328.10" font-size="3.2" text-anchor="middle" font-weight="normal" fill="#666" transform="rotate(0.05 161.2 328.10)" >1.0</text>
<text x="134.8" y="332.80" font-size="3.8" text-anchor="middle" font-weight="normal" fill="#222" stroke="#222" stroke-width="0.06" transform="rotate(0.05 134.8 332.80)" >Ratio</text>
<text x="106.7" y="183.93" font-size="4.33" text-anchor="start" font-weight="bold" fill="#000" stroke="#000" stroke-width="0.2" transform="rotate(0.05 106.7 183.93)" >TJ-CK vs YK-CK</text>
<text x="169.1" y="221.27" font-size="4.16" text-anchor="start" font-weight="bold" fill="#000" stroke="#000" stroke-width="0.2" transform="rotate(0.05 169.1 221.27)" >-log10 (Pvalue)</text>
<defs><linearGradient id="g3" x1="0" y1="0" x2="0" y2="1"><stop offset="0" stop-color="#ff0a00"/><stop offset="0.25" stop-color="#ff8000"/><stop offset="0.48" stop-color="#ffff00"/><stop offset="0.70" stop-color="#d8a090"/><stop offset="0.85" stop-color="#a060e0"/><stop offset="1" stop-color="#2a10ff"/></linearGradient></defs>
<rect x="169.4" y="224.1" width="5.599999999999994" height="27.80000000000001" fill="url(#g3)"/>
<text x="177.8" y="226.44" font-size="3.36" text-anchor="start" font-weight="bold" fill="#000" stroke="#000" stroke-width="0.15" transform="rotate(0.05 177.8 226.44)" >1.8</text>
<text x="177.8" y="233.04" font-size="3.36" text-anchor="start" font-weight="bold" fill="#000" stroke="#000" stroke-width="0.15" transform="rotate(0.05 177.8 233.04)" >1.5</text>
<text x="177.8" y="239.54" font-size="3.36" text-anchor="start" font-weight="bold" fill="#000" stroke="#000" stroke-width="0.15" transform="rotate(0.05 177.8 239.54)" >1.2</text>
<text x="177.8" y="245.94" font-size="3.36" text-anchor="start" font-weight="bold" fill="#000" stroke="#000" stroke-width="0.15" transform="rotate(0.05 177.8 245.94)" >0.9</text>
<text x="177.8" y="252.24" font-size="3.36" text-anchor="start" font-weight="bold" fill="#000" stroke="#000" stroke-width="0.15" transform="rotate(0.05 177.8 252.24)" >0.6</text>
<text x="171.4" y="260.65" font-size="4.08" text-anchor="start" font-weight="bold" fill="#000" stroke="#000" stroke-width="0.2" transform="rotate(0.05 171.4 260.65)" >Number</text>
<circle cx="172.3" cy="266.5" r="0.5" fill="#000"/>
<text x="178.3" y="267.64" font-size="3.36" text-anchor="start" font-weight="bold" fill="#222" stroke="#222" stroke-width="0.08" transform="rotate(0.05 178.3 267.64)" >2</text>
<circle cx="172.3" cy="272.1" r="1.4" fill="#000"/>
<text x="178.3" y="273.24" font-size="3.36" text-anchor="start" font-weight="bold" fill="#222" stroke="#222" stroke-width="0.08" transform="rotate(0.05 178.3 273.24)" >4</text>
<circle cx="172.3" cy="277.5" r="1.8" fill="#000"/>
<text x="178.3" y="278.64" font-size="3.36" text-anchor="start" font-weight="bold" fill="#222" stroke="#222" stroke-width="0.08" transform="rotate(0.05 178.3 278.64)" >6</text>
<circle cx="172.3" cy="283" r="2.0" fill="#000"/>
<text x="178.3" y="284.14" font-size="3.36" text-anchor="start" font-weight="bold" fill="#222" stroke="#222" stroke-width="0.08" transform="rotate(0.05 178.3 284.14)" >7</text>
<circle cx="172.3" cy="288.4" r="2.3" fill="#000"/>
<text x="178.3" y="289.54" font-size="3.36" text-anchor="start" font-weight="bold" fill="#222" stroke="#222" stroke-width="0.08" transform="rotate(0.05 178.3 289.54)" >9</text>
<text x="12.7" y="330.5" font-size="7.9" text-anchor="start" font-weight="bold" fill="#000" stroke="#000" stroke-width="0.06" transform="rotate(0.05 12.7 330.5)" >D</text>
<rect x="317.9" y="186.6" width="44.700000000000045" height="138.00000000000003" fill="#ebebeb"/>
<line x1="320.85" y1="186.6" x2="320.85" y2="324.6" stroke="#fff" stroke-width="0.25" stroke-opacity="0.6"/>
<line x1="332.35" y1="186.6" x2="332.35" y2="324.6" stroke="#fff" stroke-width="0.25" stroke-opacity="0.6"/>
<line x1="343.85" y1="186.6" x2="343.85" y2="324.6" stroke="#fff" stroke-width="0.25" stroke-opacity="0.6"/>
<line x1="355.35" y1="186.6" x2="355.35" y2="324.6" stroke="#fff" stroke-width="0.25" stroke-opacity="0.6"/>
<line x1="326.60" y1="186.6" x2="326.60" y2="324.6" stroke="#fff" stroke-width="0.35"/>
<line x1="338.10" y1="186.6" x2="338.10" y2="324.6" stroke="#fff" stroke-width="0.35"/>
<line x1="349.70" y1="186.6" x2="349.70" y2="324.6" stroke="#fff" stroke-width="0.35"/>
<line x1="361.40" y1="186.6" x2="361.40" y2="324.6" stroke="#fff" stroke-width="0.35"/>
<line x1="317.9" y1="190.40" x2="362.6" y2="190.40" stroke="#fff" stroke-width="0.5"/>
<line x1="317.9" y1="193.84" x2="362.6" y2="193.84" stroke="#fff" stroke-width="0.25" stroke-opacity="0.8"/>
<line x1="317.9" y1="197.29" x2="362.6" y2="197.29" stroke="#fff" stroke-width="0.5"/>
<line x1="317.9" y1="200.73" x2="362.6" y2="200.73" stroke="#fff" stroke-width="0.25" stroke-opacity="0.8"/>
<line x1="317.9" y1="204.18" x2="362.6" y2="204.18" stroke="#fff" stroke-width="0.5"/>
<line x1="317.9" y1="207.62" x2="362.6" y2="207.62" stroke="#fff" stroke-width="0.25" stroke-opacity="0.8"/>
<line x1="317.9" y1="211.07" x2="362.6" y2="211.07" stroke="#fff" stroke-width="0.5"/>
<line x1="317.9" y1="214.51" x2="362.6" y2="214.51" stroke="#fff" stroke-width="0.25" stroke-opacity="0.8"/>
<line x1="317.9" y1="217.96" x2="362.6" y2="217.96" stroke="#fff" stroke-width="0.5"/>
<line x1="317.9" y1="221.41" x2="362.6" y2="221.41" stroke="#fff" stroke-width="0.25" stroke-opacity="0.8"/>
<line x1="317.9" y1="224.85" x2="362.6" y2="224.85" stroke="#fff" stroke-width="0.5"/>
<line x1="317.9" y1="228.29" x2="362.6" y2="228.29" stroke="#fff" stroke-width="0.25" stroke-opacity="0.8"/>
<line x1="317.9" y1="231.74" x2="362.6" y2="231.74" stroke="#fff" stroke-width="0.5"/>
<line x1="317.9" y1="235.19" x2="362.6" y2="235.19" stroke="#fff" stroke-width="0.25" stroke-opacity="0.8"/>
<line x1="317.9" y1="238.63" x2="362.6" y2="238.63" stroke="#fff" stroke-width="0.5"/>
<line x1="317.9" y1="242.07" x2="362.6" y2="242.07" stroke="#fff" stroke-width="0.25" stroke-opacity="0.8"/>
<line x1="317.9" y1="245.52" x2="362.6" y2="245.52" stroke="#fff" stroke-width="0.5"/>
<line x1="317.9" y1="248.97" x2="362.6" y2="248.97" stroke="#fff" stroke-width="0.25" stroke-opacity="0.8"/>
<line x1="317.9" y1="252.41" x2="362.6" y2="252.41" stroke="#fff" stroke-width="0.5"/>
<line x1="317.9" y1="255.85" x2="362.6" y2="255.85" stroke="#fff" stroke-width="0.25" stroke-opacity="0.8"/>
<line x1="317.9" y1="259.30" x2="362.6" y2="259.30" stroke="#fff" stroke-width="0.5"/>
<line x1="317.9" y1="262.75" x2="362.6" y2="262.75" stroke="#fff" stroke-width="0.25" stroke-opacity="0.8"/>
<line x1="317.9" y1="266.19" x2="362.6" y2="266.19" stroke="#fff" stroke-width="0.5"/>
<line x1="317.9" y1="269.63" x2="362.6" y2="269.63" stroke="#fff" stroke-width="0.25" stroke-opacity="0.8"/>
<line x1="317.9" y1="273.08" x2="362.6" y2="273.08" stroke="#fff" stroke-width="0.5"/>
<line x1="317.9" y1="276.52" x2="362.6" y2="276.52" stroke="#fff" stroke-width="0.25" stroke-opacity="0.8"/>
<line x1="317.9" y1="279.97" x2="362.6" y2="279.97" stroke="#fff" stroke-width="0.5"/>
<line x1="317.9" y1="283.42" x2="362.6" y2="283.42" stroke="#fff" stroke-width="0.25" stroke-opacity="0.8"/>
<line x1="317.9" y1="286.86" x2="362.6" y2="286.86" stroke="#fff" stroke-width="0.5"/>
<line x1="317.9" y1="290.31" x2="362.6" y2="290.31" stroke="#fff" stroke-width="0.25" stroke-opacity="0.8"/>
<line x1="317.9" y1="293.75" x2="362.6" y2="293.75" stroke="#fff" stroke-width="0.5"/>
<line x1="317.9" y1="297.19" x2="362.6" y2="297.19" stroke="#fff" stroke-width="0.25" stroke-opacity="0.8"/>
<line x1="317.9" y1="300.64" x2="362.6" y2="300.64" stroke="#fff" stroke-width="0.5"/>
<line x1="317.9" y1="304.08" x2="362.6" y2="304.08" stroke="#fff" stroke-width="0.25" stroke-opacity="0.8"/>
<line x1="317.9" y1="307.53" x2="362.6" y2="307.53" stroke="#fff" stroke-width="0.5"/>
<line x1="317.9" y1="310.97" x2="362.6" y2="310.97" stroke="#fff" stroke-width="0.25" stroke-opacity="0.8"/>
<line x1="317.9" y1="314.42" x2="362.6" y2="314.42" stroke="#fff" stroke-width="0.5"/>
<line x1="317.9" y1="317.87" x2="362.6" y2="317.87" stroke="#fff" stroke-width="0.25" stroke-opacity="0.8"/>
<line x1="317.9" y1="321.31" x2="362.6" y2="321.31" stroke="#fff" stroke-width="0.5"/>
<text x="313.6" y="191.69" font-size="4.95" text-anchor="end" font-weight="normal" fill="#111" stroke="#111" stroke-width="0.06" transform="rotate(0.05 313.6 191.69)" >Flavonoid biosynthesis</text>
<line x1="313.90000000000003" y1="190.50" x2="315.8" y2="190.50" stroke="#222" stroke-width="0.8"/>
<text x="313.6" y="198.56" font-size="4.95" text-anchor="end" font-weight="normal" fill="#111" stroke="#111" stroke-width="0.06" transform="rotate(0.05 313.6 198.56)" >Phenylalanine metabolism</text>
<line x1="313.90000000000003" y1="197.50" x2="315.8" y2="197.50" stroke="#222" stroke-width="0.8"/>
<text x="313.6" y="205.43" font-size="4.95" text-anchor="end" font-weight="normal" fill="#111" stroke="#111" stroke-width="0.06" transform="rotate(0.05 313.6 205.43)" >Nicotinate and nicotinamide metabolism</text>
<line x1="313.90000000000003" y1="204.50" x2="315.8" y2="204.50" stroke="#222" stroke-width="0.8"/>
<text x="313.6" y="212.30" font-size="4.95" text-anchor="end" font-weight="normal" fill="#111" stroke="#111" stroke-width="0.06" transform="rotate(0.05 313.6 212.30)" >Flavone and flavonol biosynthesis</text>
<line x1="313.90000000000003" y1="211.50" x2="315.8" y2="211.50" stroke="#222" stroke-width="0.8"/>
<text x="313.6" y="219.17" font-size="4.95" text-anchor="end" font-weight="normal" fill="#111" stroke="#111" stroke-width="0.06" transform="rotate(0.05 313.6 219.17)" >Tropane, piperidine and pyridine alkaloid biosynthesis</text>
<line x1="313.90000000000003" y1="218.50" x2="315.8" y2="218.50" stroke="#222" stroke-width="0.8"/>
<text x="313.6" y="226.04" font-size="4.95" text-anchor="end" font-weight="normal" fill="#111" stroke="#111" stroke-width="0.06" transform="rotate(0.05 313.6 226.04)" >Purine metabolism</text>
<line x1="313.90000000000003" y1="224.50" x2="315.8" y2="224.50" stroke="#222" stroke-width="0.8"/>
<text x="313.6" y="232.91" font-size="4.95" text-anchor="end" font-weight="normal" fill="#111" stroke="#111" stroke-width="0.06" transform="rotate(0.05 313.6 232.91)" >Monoterpenoid biosynthesis</text>
<line x1="313.90000000000003" y1="231.50" x2="315.8" y2="231.50" stroke="#222" stroke-width="0.8"/>
<text x="313.6" y="239.78" font-size="4.95" text-anchor="end" font-weight="normal" fill="#111" stroke="#111" stroke-width="0.06" transform="rotate(0.05 313.6 239.78)" >Thiamine metabolism</text>
<line x1="313.90000000000003" y1="238.50" x2="315.8" y2="238.50" stroke="#222" stroke-width="0.8"/>
<text x="313.6" y="246.65" font-size="4.95" text-anchor="end" font-weight="normal" fill="#111" stroke="#111" stroke-width="0.06" transform="rotate(0.05 313.6 246.65)" >Oxidative phosphorylation</text>
<line x1="313.90000000000003" y1="245.50" x2="315.8" y2="245.50" stroke="#222" stroke-width="0.8"/>
<text x="313.6" y="253.52" font-size="4.95" text-anchor="end" font-weight="normal" fill="#111" stroke="#111" stroke-width="0.06" transform="rotate(0.05 313.6 253.52)" >Cysteine and methionine metabolism</text>
<line x1="313.90000000000003" y1="252.50" x2="315.8" y2="252.50" stroke="#222" stroke-width="0.8"/>
<text x="313.6" y="260.39" font-size="4.95" text-anchor="end" font-weight="normal" fill="#111" stroke="#111" stroke-width="0.06" transform="rotate(0.05 313.6 260.39)" >Biosynthesis of unsaturated fatty acids</text>
<line x1="313.90000000000003" y1="259.50" x2="315.8" y2="259.50" stroke="#222" stroke-width="0.8"/>
<text x="313.6" y="267.26" font-size="4.95" text-anchor="end" font-weight="normal" fill="#111" stroke="#111" stroke-width="0.06" transform="rotate(0.05 313.6 267.26)" >Terpenoid backbone biosynthesis</text>
<line x1="313.90000000000003" y1="266.50" x2="315.8" y2="266.50" stroke="#222" stroke-width="0.8"/>
<text x="313.6" y="274.13" font-size="4.95" text-anchor="end" font-weight="normal" fill="#111" stroke="#111" stroke-width="0.06" transform="rotate(0.05 313.6 274.13)" >Sesquiterpenoid and triterpenoid biosynthesis</text>
<line x1="313.90000000000003" y1="272.50" x2="315.8" y2="272.50" stroke="#222" stroke-width="0.8"/>
<text x="313.6" y="281.00" font-size="4.95" text-anchor="end" font-weight="normal" fill="#111" stroke="#111" stroke-width="0.06" transform="rotate(0.05 313.6 281.00)" >Pentose and glucuronate interconversions</text>
<line x1="313.90000000000003" y1="279.50" x2="315.8" y2="279.50" stroke="#222" stroke-width="0.8"/>
<text x="313.6" y="287.87" font-size="4.95" text-anchor="end" font-weight="normal" fill="#111" stroke="#111" stroke-width="0.06" transform="rotate(0.05 313.6 287.87)" >Linoleic acid metabolism</text>
<line x1="313.90000000000003" y1="286.50" x2="315.8" y2="286.50" stroke="#222" stroke-width="0.8"/>
<text x="313.6" y="294.74" font-size="4.95" text-anchor="end" font-weight="normal" fill="#111" stroke="#111" stroke-width="0.06" transform="rotate(0.05 313.6 294.74)" >Glycerophospholipid metabolism</text>
<line x1="313.90000000000003" y1="293.50" x2="315.8" y2="293.50" stroke="#222" stroke-width="0.8"/>
<text x="313.6" y="301.61" font-size="4.95" text-anchor="end" font-weight="normal" fill="#111" stroke="#111" stroke-width="0.06" transform="rotate(0.05 313.6 301.61)" >Fatty acid biosynthesis</text>
<line x1="313.90000000000003" y1="300.50" x2="315.8" y2="300.50" stroke="#222" stroke-width="0.8"/>
<text x="313.6" y="308.48" font-size="4.95" text-anchor="end" font-weight="normal" fill="#111" stroke="#111" stroke-width="0.06" transform="rotate(0.05 313.6 308.48)" >Cutin, suberine and wax biosynthesis</text>
<line x1="313.90000000000003" y1="307.50" x2="315.8" y2="307.50" stroke="#222" stroke-width="0.8"/>
<text x="313.6" y="315.35" font-size="4.95" text-anchor="end" font-weight="normal" fill="#111" stroke="#111" stroke-width="0.06" transform="rotate(0.05 313.6 315.35)" >Biotin metabolism</text>
<line x1="313.90000000000003" y1="314.50" x2="315.8" y2="314.50" stroke="#222" stroke-width="0.8"/>
<text x="313.6" y="322.22" font-size="4.95" text-anchor="end" font-weight="normal" fill="#111" stroke="#111" stroke-width="0.06" transform="rotate(0.05 313.6 322.22)" >Anthocyanin biosynthesis</text>
<line x1="313.90000000000003" y1="321.50" x2="315.8" y2="321.50" stroke="#222" stroke-width="0.8"/>
<circle cx="325.6" cy="190.40" r="2.3" fill="#ffdd00"/>
<circle cx="320" cy="197.29" r="2.1" fill="#2020ff"/>
<circle cx="332.3" cy="204.18" r="2.1" fill="#ff1010"/>
<circle cx="329" cy="211.07" r="1.8" fill="#ff8000"/>
<circle cx="325.1" cy="217.96" r="1.6" fill="#f0b050"/>
<circle cx="320.5" cy="224.85" r="1.5" fill="#7030f0"/>
<circle cx="338.1" cy="231.74" r="1.7" fill="#ff2000"/>
<circle cx="341.9" cy="238.63" r="1.4" fill="#f8a000"/>
<circle cx="341.9" cy="245.52" r="1.4" fill="#f8a000"/>
<circle cx="322.6" cy="252.41" r="1.3" fill="#9040d0"/>
<circle cx="326.6" cy="259.30" r="1.2" fill="#c08090"/>
<circle cx="361.4" cy="266.19" r="0.5" fill="#f0e080"/>
<circle cx="332.2" cy="273.08" r="0.6" fill="#9060e0"/>
<circle cx="322.6" cy="279.97" r="0.6" fill="#4040ff"/>
<circle cx="322.6" cy="286.86" r="0.6" fill="#4040ff"/>
<circle cx="332.2" cy="293.75" r="0.6" fill="#9060e0"/>
<circle cx="322.6" cy="300.64" r="0.6" fill="#4040ff"/>
<circle cx="361.4" cy="307.53" r="0.5" fill="#f0e080"/>
<circle cx="361.4" cy="314.42" r="0.5" fill="#f0e080"/>
<circle cx="332.2" cy="321.31" r="0.6" fill="#9060e0"/>
<line x1="326.6" y1="324.6" x2="326.6" y2="325.8" stroke="#333" stroke-width="0.4"/>
<text x="326.6" y="328.70" font-size="3.2" text-anchor="middle" font-weight="normal" fill="#666" transform="rotate(0.05 326.6 328.70)" >0.4</text>
<line x1="338.1" y1="324.6" x2="338.1" y2="325.8" stroke="#333" stroke-width="0.4"/>
<text x="338.1" y="328.70" font-size="3.2" text-anchor="middle" font-weight="normal" fill="#666" transform="rotate(0.05 338.1 328.70)" >0.6</text>
<line x1="349.7" y1="324.6" x2="349.7" y2="325.8" stroke="#333" stroke-width="0.4"/>
<text x="349.7" y="328.70" font-size="3.2" text-anchor="middle" font-weight="normal" fill="#666" transform="rotate(0.05 349.7 328.70)" >0.8</text>
<line x1="361.4" y1="324.6" x2="361.4" y2="325.8" stroke="#333" stroke-width="0.4"/>
<text x="361.4" y="328.70" font-size="3.2" text-anchor="middle" font-weight="normal" fill="#666" transform="rotate(0.05 361.4 328.70)" >1.0</text>
<text x="340.6" y="333.30" font-size="3.8" text-anchor="middle" font-weight="normal" fill="#222" stroke="#222" stroke-width="0.06" transform="rotate(0.05 340.6 333.30)" >Ratio</text>
<text x="318.7" y="183.68" font-size="4.17" text-anchor="start" font-weight="bold" fill="#000" stroke="#000" stroke-width="0.2" transform="rotate(0.05 318.7 183.68)" >TJ-T vs YK-T</text>
<text x="369.6" y="221.55" font-size="4.08" text-anchor="start" font-weight="bold" fill="#000" stroke="#000" stroke-width="0.2" transform="rotate(0.05 369.6 221.55)" >-log10 (Pvalue)</text>
<defs><linearGradient id="g4" x1="0" y1="0" x2="0" y2="1"><stop offset="0" stop-color="#ff0a00"/><stop offset="0.25" stop-color="#ff8000"/><stop offset="0.48" stop-color="#ffff00"/><stop offset="0.70" stop-color="#d8a090"/><stop offset="0.85" stop-color="#a060e0"/><stop offset="1" stop-color="#2a10ff"/></linearGradient></defs>
<rect x="368.9" y="224.1" width="5.400000000000034" height="27.80000000000001" fill="url(#g4)"/>
<text x="376.3" y="227.50" font-size="3.54" text-anchor="start" font-weight="bold" fill="#000" stroke="#000" stroke-width="0.15" transform="rotate(0.05 376.3 227.50)" >1.25</text>
<text x="376.3" y="234.20" font-size="3.54" text-anchor="start" font-weight="bold" fill="#000" stroke="#000" stroke-width="0.15" transform="rotate(0.05 376.3 234.20)" >1.00</text>
<text x="376.3" y="241.30" font-size="3.54" text-anchor="start" font-weight="bold" fill="#000" stroke="#000" stroke-width="0.15" transform="rotate(0.05 376.3 241.30)" >0.75</text>
<text x="376.3" y="248.20" font-size="3.54" text-anchor="start" font-weight="bold" fill="#000" stroke="#000" stroke-width="0.15" transform="rotate(0.05 376.3 248.20)" >0.50</text>
<text x="369.4" y="261.33" font-size="4.02" text-anchor="start" font-weight="bold" fill="#000" stroke="#000" stroke-width="0.2" transform="rotate(0.05 369.4 261.33)" >Number</text>
<circle cx="371.7" cy="266.2" r="0.5" fill="#000"/>
<text x="377.8" y="267.40" font-size="3.54" text-anchor="start" font-weight="bold" fill="#222" stroke="#222" stroke-width="0.08" transform="rotate(0.05 377.8 267.40)" >1</text>
<circle cx="371.7" cy="272.2" r="1.4" fill="#000"/>
<text x="377.8" y="273.40" font-size="3.54" text-anchor="start" font-weight="bold" fill="#222" stroke="#222" stroke-width="0.08" transform="rotate(0.05 377.8 273.40)" >2</text>
<circle cx="371.7" cy="277.8" r="1.8" fill="#000"/>
<text x="377.8" y="279.00" font-size="3.54" text-anchor="start" font-weight="bold" fill="#222" stroke="#222" stroke-width="0.08" transform="rotate(0.05 377.8 279.00)" >3</text>
<circle cx="371.7" cy="283.5" r="2.0" fill="#000"/>
<text x="377.8" y="284.70" font-size="3.54" text-anchor="start" font-weight="bold" fill="#222" stroke="#222" stroke-width="0.08" transform="rotate(0.05 377.8 284.70)" >4</text>
<circle cx="371.7" cy="289.1" r="2.3" fill="#000"/>
<text x="377.8" y="290.30" font-size="3.54" text-anchor="start" font-weight="bold" fill="#222" stroke="#222" stroke-width="0.08" transform="rotate(0.05 377.8 290.30)" >5</text>
<text x="210.9" y="329.9" font-size="7.9" text-anchor="start" font-weight="bold" fill="#000" stroke="#000" stroke-width="0.06" transform="rotate(0.05 210.9 329.9)" >E</text>
<path d="M333.3,190.8 L335.8,188.9 L335.8,189.8 L347.2,189.8 L347.2,191.8 L335.8,191.8 L335.8,192.70000000000002 Z" fill="#3263c8"/>
<path d="M327.2,197.4 L329.7,195.5 L329.7,196.4 L341.3,196.4 L341.3,198.4 L329.7,198.4 L329.7,199.3 Z" fill="#3263c8"/>
<path d="M338.9,204.7 L341.4,202.79999999999998 L341.4,203.7 L353,203.7 L353,205.7 L341.4,205.7 L341.4,206.6 Z" fill="#3263c8"/>
<rect x="24.5" y="340.5" width="374" height="202" fill="none" stroke="#dcdcdc" stroke-width="1"/>
<line x1="65.8" y1="359.3" x2="65.8" y2="470.8" stroke="#444" stroke-width="0.8"/>
<line x1="65.8" y1="470.80" x2="67.6" y2="470.80" stroke="#444" stroke-width="0.7"/>
<text x="60.6" y="472.90" font-size="6.2" text-anchor="end" font-weight="normal" fill="#222" stroke="#222" stroke-width="0.06" transform="rotate(0.05 60.6 472.90)" >0</text>
<line x1="65.8" y1="442.93" x2="67.6" y2="442.93" stroke="#444" stroke-width="0.7"/>
<text x="60.6" y="445.03" font-size="6.2" text-anchor="end" font-weight="normal" fill="#222" stroke="#222" stroke-width="0.06" transform="rotate(0.05 60.6 445.03)" >50</text>
<line x1="65.8" y1="415.05" x2="67.6" y2="415.05" stroke="#444" stroke-width="0.7"/>
<text x="60.6" y="417.15" font-size="6.2" text-anchor="end" font-weight="normal" fill="#222" stroke="#222" stroke-width="0.06" transform="rotate(0.05 60.6 417.15)" >100</text>
<line x1="65.8" y1="387.18" x2="67.6" y2="387.18" stroke="#444" stroke-width="0.7"/>
<text x="60.6" y="389.28" font-size="6.2" text-anchor="end" font-weight="normal" fill="#222" stroke="#222" stroke-width="0.06" transform="rotate(0.05 60.6 389.28)" >150</text>
<line x1="65.8" y1="359.30" x2="67.6" y2="359.30" stroke="#444" stroke-width="0.7"/>
<text x="60.6" y="361.40" font-size="6.2" text-anchor="end" font-weight="normal" fill="#222" stroke="#222" stroke-width="0.06" transform="rotate(0.05 60.6 361.40)" >200</text>
<rect x="68.90" y="377.14" width="7.3" height="93.66" fill="#2f5597"/>
<text x="73.75" y="374.64" font-size="6.2" text-anchor="middle" font-weight="normal" fill="#222" stroke="#222" stroke-width="0.06" transform="rotate(0.05 73.75 374.64)" >168</text>
<rect x="77.20" y="418.39" width="7.3" height="52.41" fill="#00b050"/>
<text x="80.85" y="414.00" font-size="6.2" text-anchor="middle" font-weight="normal" fill="#222" stroke="#222" stroke-width="0.06" transform="rotate(0.05 80.85 414.00)" >94</text>
<rect x="85.50" y="429.55" width="7.3" height="41.26" fill="#c00000"/>
<text x="89.15" y="425.15" font-size="6.2" text-anchor="middle" font-weight="normal" fill="#222" stroke="#222" stroke-width="0.06" transform="rotate(0.05 89.15 425.15)" >74</text>
<text x="82.30" y="478.60" font-size="6.4" text-anchor="end" fill="#111" transform="rotate(-45 82.30 478.60)">All</text>
<rect x="99.10" y="447.94" width="7.3" height="22.86" fill="#2f5597"/>
<text x="102.75" y="443.54" font-size="6.2" text-anchor="middle" font-weight="normal" fill="#222" stroke="#222" stroke-width="0.06" transform="rotate(0.05 102.75 443.54)" >41</text>
<rect x="107.40" y="457.42" width="7.3" height="13.38" fill="#00b050"/>
<text x="111.05" y="453.02" font-size="6.2" text-anchor="middle" font-weight="normal" fill="#222" stroke="#222" stroke-width="0.06" transform="rotate(0.05 111.05 453.02)" >24</text>
<rect x="115.70" y="461.32" width="7.3" height="9.48" fill="#c00000"/>
<text x="119.35" y="456.92" font-size="6.2" text-anchor="middle" font-weight="normal" fill="#222" stroke="#222" stroke-width="0.06" transform="rotate(0.05 119.35 456.92)" >17</text>
<text x="112.50" y="478.60" font-size="6.4" text-anchor="end" fill="#111" transform="rotate(-45 112.50 478.60)">Lipids and lipid-like molecules</text>
<rect x="129.30" y="445.16" width="7.3" height="25.64" fill="#2f5597"/>
<text x="132.95" y="440.76" font-size="6.2" text-anchor="middle" font-weight="normal" fill="#222" stroke="#222" stroke-width="0.06" transform="rotate(0.05 132.95 440.76)" >46</text>
<rect x="137.60" y="457.98" width="7.3" height="12.82" fill="#00b050"/>
<text x="141.25" y="453.58" font-size="6.2" text-anchor="middle" font-weight="normal" fill="#222" stroke="#222" stroke-width="0.06" transform="rotate(0.05 141.25 453.58)" >23</text>
<rect x="145.90" y="457.98" width="7.3" height="12.82" fill="#c00000"/>
<text x="149.55" y="453.58" font-size="6.2" text-anchor="middle" font-weight="normal" fill="#222" stroke="#222" stroke-width="0.06" transform="rotate(0.05 149.55 453.58)" >23</text>
<text x="142.70" y="478.60" font-size="6.4" text-anchor="end" fill="#111" transform="rotate(-45 142.70 478.60)">Phenylpropanoids and polyketides</text>
<rect x="159.50" y="463.55" width="7.3" height="7.25" fill="#2f5597"/>
<text x="163.15" y="459.15" font-size="6.2" text-anchor="middle" font-weight="normal" fill="#222" stroke="#222" stroke-width="0.06" transform="rotate(0.05 163.15 459.15)" >13</text>
<rect x="167.80" y="466.34" width="7.3" height="4.46" fill="#00b050"/>
<text x="171.45" y="461.94" font-size="6.2" text-anchor="middle" font-weight="normal" fill="#222" stroke="#222" stroke-width="0.06" transform="rotate(0.05 171.45 461.94)" >8</text>
<rect x="176.10" y="468.01" width="7.3" height="2.79" fill="#c00000"/>
<text x="179.75" y="463.61" font-size="6.2" text-anchor="middle" font-weight="normal" fill="#222" stroke="#222" stroke-width="0.06" transform="rotate(0.05 179.75 463.61)" >5</text>
<text x="172.90" y="478.60" font-size="6.4" text-anchor="end" fill="#111" transform="rotate(-45 172.90 478.60)">Organic oxygen compounds</text>
<rect x="189.70" y="465.23" width="7.3" height="5.58" fill="#2f5597"/>
<text x="193.35" y="460.83" font-size="6.2" text-anchor="middle" font-weight="normal" fill="#222" stroke="#222" stroke-width="0.06" transform="rotate(0.05 193.35 460.83)" >10</text>
<rect x="198.00" y="466.90" width="7.3" height="3.90" fill="#00b050"/>
<text x="201.65" y="462.50" font-size="6.2" text-anchor="middle" font-weight="normal" fill="#222" stroke="#222" stroke-width="0.06" transform="rotate(0.05 201.65 462.50)" >7</text>
<rect x="206.30" y="469.13" width="7.3" height="1.67" fill="#c00000"/>
<text x="209.95" y="464.73" font-size="6.2" text-anchor="middle" font-weight="normal" fill="#222" stroke="#222" stroke-width="0.06" transform="rotate(0.05 209.95 464.73)" >3</text>
<text x="203.10" y="478.60" font-size="6.4" text-anchor="end" fill="#111" transform="rotate(-45 203.10 478.60)">Organic acids and derivatives</text>
<rect x="219.90" y="458.54" width="7.3" height="12.27" fill="#2f5597"/>
<text x="223.55" y="454.14" font-size="6.2" text-anchor="middle" font-weight="normal" fill="#222" stroke="#222" stroke-width="0.06" transform="rotate(0.05 223.55 454.14)" >22</text>
<rect x="228.20" y="464.11" width="7.3" height="6.69" fill="#00b050"/>
<text x="231.85" y="459.71" font-size="6.2" text-anchor="middle" font-weight="normal" fill="#222" stroke="#222" stroke-width="0.06" transform="rotate(0.05 231.85 459.71)" >12</text>
<rect x="236.50" y="465.23" width="7.3" height="5.58" fill="#c00000"/>
<text x="240.15" y="460.83" font-size="6.2" text-anchor="middle" font-weight="normal" fill="#222" stroke="#222" stroke-width="0.06" transform="rotate(0.05 240.15 460.83)" >10</text>
<text x="233.30" y="478.60" font-size="6.4" text-anchor="end" fill="#111" transform="rotate(-45 233.30 478.60)">Benzenoids</text>
<rect x="250.10" y="462.44" width="7.3" height="8.36" fill="#2f5597"/>
<text x="253.75" y="458.04" font-size="6.2" text-anchor="middle" font-weight="normal" fill="#222" stroke="#222" stroke-width="0.06" transform="rotate(0.05 253.75 458.04)" >15</text>
<rect x="258.40" y="465.23" width="7.3" height="5.58" fill="#00b050"/>
<text x="262.05" y="460.83" font-size="6.2" text-anchor="middle" font-weight="normal" fill="#222" stroke="#222" stroke-width="0.06" transform="rotate(0.05 262.05 460.83)" >10</text>
<rect x="266.70" y="468.01" width="7.3" height="2.79" fill="#c00000"/>
<text x="270.35" y="463.61" font-size="6.2" text-anchor="middle" font-weight="normal" fill="#222" stroke="#222" stroke-width="0.06" transform="rotate(0.05 270.35 463.61)" >5</text>
<text x="263.50" y="478.60" font-size="6.4" text-anchor="end" fill="#111" transform="rotate(-45 263.50 478.60)">Organoheterocyclic compounds</text>
<rect x="280.30" y="468.01" width="7.3" height="2.79" fill="#2f5597"/>
<text x="283.95" y="463.61" font-size="6.2" text-anchor="middle" font-weight="normal" fill="#222" stroke="#222" stroke-width="0.06" transform="rotate(0.05 283.95 463.61)" >5</text>
<rect x="288.60" y="469.13" width="7.3" height="1.67" fill="#00b050"/>
<text x="292.25" y="464.73" font-size="6.2" text-anchor="middle" font-weight="normal" fill="#222" stroke="#222" stroke-width="0.06" transform="rotate(0.05 292.25 464.73)" >3</text>
<rect x="296.90" y="469.69" width="7.3" height="1.11" fill="#c00000"/>
<text x="300.55" y="465.29" font-size="6.2" text-anchor="middle" font-weight="normal" fill="#222" stroke="#222" stroke-width="0.06" transform="rotate(0.05 300.55 465.29)" >2</text>
<text x="293.70" y="478.60" font-size="6.4" text-anchor="end" fill="#111" transform="rotate(-45 293.70 478.60)">Nucleosides and derivatives</text>
<rect x="310.50" y="465.78" width="7.3" height="5.02" fill="#2f5597"/>
<text x="314.15" y="461.38" font-size="6.2" text-anchor="middle" font-weight="normal" fill="#222" stroke="#222" stroke-width="0.06" transform="rotate(0.05 314.15 461.38)" >9</text>
<rect x="318.80" y="467.45" width="7.3" height="3.34" fill="#00b050"/>
<text x="322.45" y="463.06" font-size="6.2" text-anchor="middle" font-weight="normal" fill="#222" stroke="#222" stroke-width="0.06" transform="rotate(0.05 322.45 463.06)" >6</text>
<rect x="327.10" y="469.13" width="7.3" height="1.67" fill="#c00000"/>
<text x="330.75" y="464.73" font-size="6.2" text-anchor="middle" font-weight="normal" fill="#222" stroke="#222" stroke-width="0.06" transform="rotate(0.05 330.75 464.73)" >3</text>
<text x="323.90" y="478.60" font-size="6.4" text-anchor="end" fill="#111" transform="rotate(-45 323.90 478.60)">Alkaloids and derivatives</text>
<rect x="340.70" y="468.01" width="7.3" height="2.79" fill="#2f5597"/>
<text x="344.35" y="463.61" font-size="6.2" text-anchor="middle" font-weight="normal" fill="#222" stroke="#222" stroke-width="0.06" transform="rotate(0.05 344.35 463.61)" >5</text>
<rect x="349.00" y="470.24" width="7.3" height="0.56" fill="#00b050"/>
<text x="352.65" y="465.84" font-size="6.2" text-anchor="middle" font-weight="normal" fill="#222" stroke="#222" stroke-width="0.06" transform="rotate(0.05 352.65 465.84)" >1</text>
<rect x="357.30" y="468.57" width="7.3" height="2.23" fill="#c00000"/>
<text x="360.95" y="464.17" font-size="6.2" text-anchor="middle" font-weight="normal" fill="#222" stroke="#222" stroke-width="0.06" transform="rotate(0.05 360.95 464.17)" >4</text>
<text x="357.90" y="476.00" font-size="6.4" text-anchor="end" fill="#111" transform="rotate(-45 357.90 476.00)">Lignans, neolignans and related...</text>
<rect x="370.90" y="468.57" width="7.3" height="2.23" fill="#2f5597"/>
<text x="374.55" y="464.17" font-size="6.2" text-anchor="middle" font-weight="normal" fill="#222" stroke="#222" stroke-width="0.06" transform="rotate(0.05 374.55 464.17)" >4</text>
<text x="382.85" y="466.40" font-size="6.2" text-anchor="middle" font-weight="normal" fill="#222" stroke="#222" stroke-width="0.06" transform="rotate(0.05 382.85 466.40)" >0</text>
<rect x="387.50" y="469.69" width="7.3" height="1.11" fill="#c00000"/>
<text x="391.15" y="465.29" font-size="6.2" text-anchor="middle" font-weight="normal" fill="#222" stroke="#222" stroke-width="0.06" transform="rotate(0.05 391.15 465.29)" >2</text>
<text x="384.30" y="478.60" font-size="6.4" text-anchor="end" fill="#111" transform="rotate(-45 384.30 478.60)">Others</text>
<line x1="65.8" y1="470.8" x2="398" y2="470.8" stroke="#444" stroke-width="0.9"/>
<rect x="184.3" y="356.4" width="4.4" height="4.4" fill="#2f5597"/>
<text x="190" y="361.1" font-size="7.9" text-anchor="start" font-weight="normal" fill="#111" stroke="#111" stroke-width="0.06" transform="rotate(0.05 190 361.1)" >All</text>
<rect x="214.3" y="356.4" width="4.4" height="4.4" fill="#00b050"/>
<text x="220.1" y="361.1" font-size="7.8" text-anchor="start" font-weight="normal" fill="#111" stroke="#111" stroke-width="0.06" transform="rotate(0.05 220.1 361.1)" >Down</text>
<rect x="253.2" y="356.4" width="4.5" height="4.4" fill="#e00000"/>
<text x="259.1" y="361.1" font-size="7.9" text-anchor="start" font-weight="normal" fill="#111" stroke="#111" stroke-width="0.06" transform="rotate(0.05 259.1 361.1)" >Up</text>
<text x="37.6" y="430.2" font-size="9.1" text-anchor="middle" fill="#111" stroke="#111" stroke-width="0.1" transform="rotate(-90 37.6 430.2)">Categories of DAMs</text>
<path d="M132,427.7 Q138,425.2 144,427.7 Q138,430.2 132,427.7 Z M138,423.4 Q140.6,427.7 138,432.0 Q135.4,427.7 138,423.4 Z" fill="#ff0000"/>
<text x="31" y="536.7" font-size="7.9" text-anchor="start" font-weight="bold" fill="#000" stroke="#000" stroke-width="0.06" transform="rotate(0.05 31 536.7)" >F</text>
</svg></body></html>
